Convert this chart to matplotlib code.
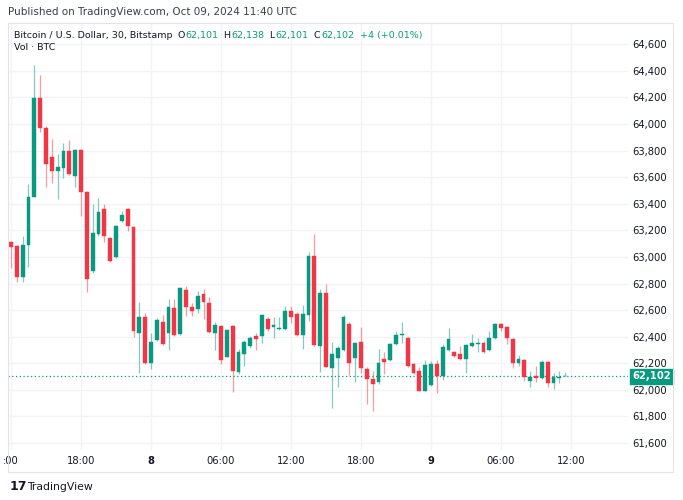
import matplotlib
matplotlib.use("Agg")
import matplotlib.pyplot as plt
from matplotlib.patches import Rectangle
import numpy as np

# ---- data: 30-minute candles, Oct 7 12:00 -> Oct 9 11:30 UTC ----
opens = [63112, 63082, 62847, 63089, 63453, 64197, 63967, 63753, 63646, 63666,
         63796, 63608, 63804, 63488, 62896, 63170, 63360, 63144, 62999, 63272,
         63357, 63222, 62425, 62546, 62200, 62375, 62513, 62425, 62613, 62418,
         62751, 62621, 62606, 62721, 62651, 62425, 62483, 62250, 62483, 62132,
         62268, 62330, 62403, 62405, 62533, 62475, 62456, 62458, 62596, 62571,
         62413, 62566, 63009, 62330, 62731, 62167, 62238, 62300, 62495, 62243,
         62360, 62157, 62080, 62057, 62230, 62225, 62343, 62413, 62392, 62195,
         62144, 61994, 62037, 62195, 62104, 62300, 62287, 62268, 62233, 62330,
         62343, 62355, 62298, 62388, 62493, 62470, 62380, 62205, 62227, 62069,
         62104, 62087, 62212, 62050, 62090, 62101]
highs = [63120, 63090, 63157, 63548, 64443, 64368, 63984, 63884, 63774, 63854,
         63879, 63810, 63810, 63495, 63395, 63445, 63395, 63150, 63240, 63347,
         63365, 63230, 62663, 62580, 62430, 62539, 62563, 62686, 62683, 62770,
         62781, 62656, 62746, 62756, 62701, 62508, 62490, 62460, 62490, 62305,
         62375, 62405, 62425, 62570, 62546, 62550, 62546, 62631, 62631, 62588,
         62638, 63035, 63170, 62761, 62796, 62363, 62330, 62560, 62513, 62360,
         62471, 62170, 62144, 62310, 62288, 62350, 62443, 62513, 62400, 62200,
         62175, 62225, 62220, 62225, 62345, 62463, 62295, 62330, 62345, 62420,
         62388, 62370, 62445, 62500, 62500, 62478, 62388, 62265, 62235, 62142,
         62180, 62225, 62220, 62129, 62144, 62138]
lows = [62916, 62813, 62813, 62926, 63450, 63941, 63528, 63553, 63433, 63591,
        63615, 63523, 63307, 62734, 62877, 63157, 63114, 62960, 62990, 63265,
        63197, 62395, 62129, 62195, 62155, 62370, 62338, 62300, 62405, 62410,
        62556, 62558, 62580, 62533, 62425, 62300, 62192, 62245, 61986, 62119,
        62180, 62313, 62300, 62350, 62443, 62392, 62450, 62450, 62505, 62405,
        62305, 62520, 62330, 62137, 62170, 61862, 62019, 62295, 62112, 62062,
        62129, 61894, 61841, 62044, 62120, 62220, 62335, 62355, 62175, 62120,
        61990, 61990, 62030, 61979, 62075, 62295, 62250, 62225, 62124, 62325,
        62287, 62275, 62290, 62385, 62445, 62343, 62168, 62182, 62069, 62024,
        62062, 62080, 62024, 62010, 62054, 62101]
closes = [63072, 62847, 63087, 63453, 64197, 63971, 63698, 63646, 63674, 63796,
          63621, 63804, 63486, 62834, 63177, 63340, 63159, 62969, 63235, 63315,
          63232, 62445, 62550, 62200, 62358, 62526, 62345, 62621, 62413, 62764,
          62621, 62595, 62708, 62663, 62433, 62486, 62225, 62450, 62145, 62287,
          62358, 62390, 62385, 62563, 62458, 62488, 62468, 62593, 62550, 62413,
          62568, 63007, 62338, 62731, 62175, 62268, 62313, 62550, 62200, 62355,
          62162, 62080, 62044, 62200, 62210, 62343, 62410, 62420, 62182, 62129,
          61994, 62187, 62195, 62104, 62320, 62380, 62254, 62233, 62338, 62355,
          62355, 62287, 62392, 62493, 62463, 62388, 62205, 62235, 62099, 62099,
          62087, 62212, 62050, 62099, 62099, 62102]

price_ticks = [61600, 61800, 62000, 62200, 62400, 62600, 62800, 63000,
               63200, 63400, 63600, 63800, 64000, 64200, 64400, 64600]
time_tick_idx = [0, 12, 24, 36, 48, 60, 72, 84, 96]
time_tick_labels = [":00", "18:00", "8", "06:00", "12:00", "18:00", "9", "06:00", "12:00"]
last_price = 62102

UP = "#089981"
DOWN = "#F23645"
GRID = "#f2f3f6"
TXT = "#131722"

W, H = 683, 500
fig = plt.figure(figsize=(W / 100, H / 100), dpi=100)
fig.patch.set_facecolor("white")

def fx(px):
    return px / W

def fy(py):
    return 1 - py / H

# main axes (pixels: x 8..628, y 23..450)
ax = fig.add_axes([fx(8), fy(450), fx(620), (450 - 23) / H])
ax.set_facecolor("white")

n = len(opens)
idx = np.arange(n)
o = np.array(opens, float)
h = np.array(highs, float)
l = np.array(lows, float)
c = np.array(closes, float)
up = c >= o
cols = np.where(up, UP, DOWN)

# wicks
for i in range(n):
    ax.vlines(idx[i], l[i], h[i], color=cols[i], alpha=0.5, linewidth=0.9, zorder=2)
# bodies
bottoms = np.minimum(o, c)
heights = np.maximum(np.abs(c - o), 6)
ax.bar(idx, heights, bottom=bottoms, width=0.66, color=cols, edgecolor=cols,
       linewidth=0.3, zorder=3)

ax.set_xlim(-0.514, 105.77)
ax.set_ylim(61548, 64759)

# grid
for p in price_ticks:
    ax.axhline(p, color=GRID, linewidth=1.0, zorder=0)
for t in time_tick_idx:
    ax.axvline(t, color=GRID, linewidth=1.0, zorder=0)

# last price dotted line
ax.axhline(last_price, color=UP, linewidth=0.9, linestyle=(0, (1, 2)), zorder=1)

ax.set_yticks(price_ticks)
ax.set_yticklabels([f"{p:,}" for p in price_ticks])
ax.yaxis.tick_right()
ax.tick_params(axis="y", length=0, pad=3, labelsize=7.2, labelcolor=TXT)
ax.set_xticks(time_tick_idx)
ax.set_xticklabels(time_tick_labels)
ax.tick_params(axis="x", length=0, pad=4, labelsize=7.2, labelcolor=TXT)
for lab in ax.get_xticklabels():
    if lab.get_text() in ("8", "9"):
        lab.set_fontweight("bold")
for s in ax.spines.values():
    s.set_visible(False)

# price label box
ax.annotate(f"{last_price:,}", xy=(1.0, last_price), xycoords=("axes fraction", "data"),
            xytext=(3, 0), textcoords="offset points", ha="left", va="center",
            fontsize=7.2, fontweight="bold", color="white",
            bbox=dict(boxstyle="square,pad=0.25", fc=UP, ec=UP), zorder=10,
            annotation_clip=False)

# outer frame
fig.add_artist(Rectangle((fx(8), fy(472)), fx(665), (472 - 23) / H, transform=fig.transFigure,
                         fill=False, edgecolor="#e0e3eb", linewidth=0.8))

# header texts
r = fig.canvas.get_renderer()
fig.text(fx(8), fy(12), "Published on TradingView.com, Oct 09, 2024 11:40 UTC",
         fontsize=7.5, color="#3a3e4a", va="center", ha="left")
title = fig.text(fx(14), fy(35), "Bitcoin / U.S. Dollar, 30, Bitstamp", fontsize=6.8,
                 color=TXT, va="center", ha="left")
xpos = 14 + title.get_window_extent(renderer=r).width + 5
parts = [("O", TXT), ("62,101", UP), ("  H", TXT), ("62,138", UP), ("  L", TXT), ("62,101", UP),
         ("  C", TXT), ("62,102", UP), ("  +4 (+0.01%)", UP)]
for txt, col in parts:
    t = fig.text(fx(xpos), fy(35), txt, fontsize=6.8, color=col, va="center", ha="left")
    xpos += t.get_window_extent(renderer=r).width
fig.text(fx(14), fy(48), "Vol · BTC", fontsize=6.8, color=TXT, va="center", ha="left")

# footer
fig.text(fx(10), fy(487), "17", fontsize=9, fontweight="heavy", color=TXT, va="center", ha="left")
fig.text(fx(27), fy(487), "TradingView", fontsize=7.8, color=TXT, va="center", ha="left")

fig.savefig("out.png", dpi=100, facecolor="white")
